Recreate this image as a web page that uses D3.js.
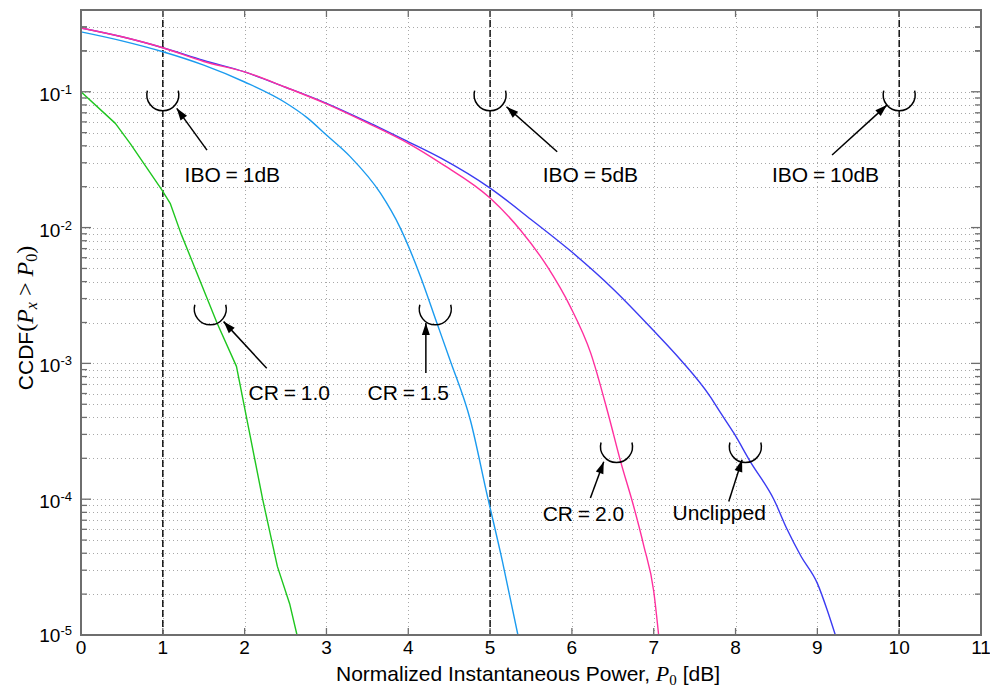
<!DOCTYPE html>
<html><head><meta charset="utf-8">
<script src="https://cdn.jsdelivr.net/npm/d3@7"></script>
<style>
body{margin:0;background:#fff;}
svg{display:block;}
text{font-family:"Liberation Sans",Arial,Helvetica,sans-serif;fill:#000;}
.serif{font-family:"Liberation Serif","Times New Roman",serif;}
</style>
</head><body>
<svg id="chart" width="990" height="689"></svg>
<script>
// ---------- data ----------
const xTickValues = [0,1,2,3,4,5,6,7,8,9,10,11];
const yTickExponents = [-5,-4,-3,-2,-1];
const iboLines = [1,5,10];

const unclippedX = [0,0.5,1,1.5,2,2.5,3,3.5,4,4.4,5,5.5,6,6.5,7,7.33,7.69,7.82,7.98,8.18,8.47,8.63,8.8,9.0,9.12,9.22];
const unclippedY = [0.295,0.254,0.211,0.170,0.140,0.108,0.0822,0.060,0.0428,0.0324,0.0195,0.01148,0.0066,0.00355,0.00174,0.00106,0.00057,0.00043,0.000306,0.000189,0.000099,0.00006,0.000038,0.000024,0.0000153,0.00001];

const cr20X = [0,0.5,1,1.5,2,2.5,3,3.5,4,4.4,5,5.37,5.7,5.98,6.23,6.45,6.595,6.756,6.88,7.0,7.06];
const cr20Y = [0.295,0.254,0.211,0.167,0.140,0.108,0.0815,0.059,0.0417,0.0297,0.0165,0.0096,0.00515,0.00262,0.00119,0.00041,0.00019,0.000088,0.000045,0.000021,0.00001];

const cr15X = [0,0.5,1,1.5,2,2.5,2.77,3,3.29,3.66,3.9,4.15,4.35,4.51,4.76,4.96,5.15,5.34];
const cr15Y = [0.276,0.237,0.197,0.157,0.118,0.083,0.064,0.048,0.0333,0.0179,0.0100,0.00435,0.00198,0.00106,0.00038,0.00011,0.000035,0.00001];

const cr10X = [0,0.42,0.6,0.99,1.09,1.22,1.66,1.9,2.22,2.4,2.55,2.64];
const cr10Y = [0.1,0.0585,0.0417,0.0189,0.0151,0.0091,0.0020,0.00095,0.0001,0.000032,0.000017,0.00001];

const seriesNames = ["Unclipped","CR = 2.0","CR = 1.5","CR = 1.0"];
const seriesColors = ["#3b3bf2","#ff2f9e","#1b9bef","#1fc61f"];

// annotation anchors in data units: marker circle, arrow tail, arrow tip, label
const annLabels = ["IBO = 1dB","IBO = 5dB","IBO = 10dB","CR = 1.0","CR = 1.5","CR = 2.0","Unclipped"];
const annCircle = [[1,0.095],[5,0.095],[10,0.095],[1.58,0.00252],[4.33,0.00252],[6.545,0.000244],[8.12,0.000244]];
const annTail = [[1.54,0.0372],[5.82,0.0362],[9.18,0.0342],[2.27,0.00092],[4.215,0.00085],[6.226,0.000102],[7.917,0.000096]];
const annTip = [[1.17,0.0755],[5.2,0.0776],[9.85,0.0798],[1.743,0.00203],[4.215,0.00198],[6.389,0.000189],[8.08,0.000195]];
const annText = [[1.85,0.0218],[6.226,0.0218],[9.1,0.0218],[2.546,0.000538],[4.0,0.000538],[6.14,0.0000686],[7.80,0.0000700]];

// ---------- layout ----------
const L = 81, R = 981, T = 10, B = 635;
const svg = d3.select("#chart");
const x = d3.scaleLinear().domain([0,11]).range([L,R]);
const y = d3.scaleLog().domain([1e-5,0.4]).range([B,T]);

const defs = svg.append("defs");
defs.append("clipPath").attr("id","clip").append("rect")
  .attr("x",L).attr("y",T).attr("width",R-L).attr("height",B-T);
defs.append("marker").attr("id","ah").attr("markerUnits","userSpaceOnUse")
  .attr("markerWidth",14).attr("markerHeight",10).attr("viewBox","-13 -5 14 10")
  .attr("refX",0).attr("refY",0).attr("orient","auto")
  .append("path").attr("d","M0,0 L-12,-4 L-12,4 Z").attr("fill","#000");

// minor/major log values
const logVals = [];
yTickExponents.forEach(e => { for (let m=1;m<=9;m++) logVals.push(m*Math.pow(10,e)); });
logVals.push(0.2,0.3);
const majorVals = yTickExponents.map(e=>Math.pow(10,e));

// grid
const grid = svg.append("g").attr("stroke","#a8a8a8").attr("stroke-width",1).attr("stroke-dasharray","1,3");
grid.selectAll("line.h").data(logVals.filter(v=>v>1e-5)).join("line")
  .attr("x1",L).attr("x2",R).attr("y1",d=>Math.round(y(d))+0.5).attr("y2",d=>Math.round(y(d))+0.5);
grid.selectAll("line.v").data(xTickValues.filter(v=>v>0&&v<11)).join("line")
  .attr("y1",T).attr("y2",B).attr("x1",d=>Math.round(x(d))+0.5).attr("x2",d=>Math.round(x(d))+0.5);

// IBO dashed lines
svg.append("g").selectAll("line").data(iboLines).join("line")
  .attr("x1",d=>x(d)).attr("x2",d=>x(d)).attr("y1",T).attr("y2",B)
  .attr("stroke","#000").attr("stroke-width",1.4).attr("stroke-dasharray","7,3");

// curves
const seriesXs = [unclippedX,cr20X,cr15X,cr10X];
const seriesYs = [unclippedY,cr20Y,cr15Y,cr10Y];
const curveTypes = [d3.curveMonotoneX,d3.curveMonotoneX,d3.curveMonotoneX,d3.curveLinear];
const curves = svg.append("g").attr("clip-path","url(#clip)");
seriesNames.forEach((name,i)=>{
  const line = d3.line().x(d=>x(d[0])).y(d=>y(d[1])).curve(curveTypes[i]);
  const pts = seriesXs[i].map((v,j)=>[v,seriesYs[i][j]]);
  curves.append("path").datum(pts).attr("d",line)
    .attr("fill","none").attr("stroke",seriesColors[i]).attr("stroke-width",1.4)
    .attr("stroke-linejoin","round");
});

// annotations
const ann = svg.append("g");
const rC = 16;
annLabels.forEach((lab,i)=>{
  const cx = x(annCircle[i][0]), cy = y(annCircle[i][1]);
  const a0 = -15*Math.PI/180, a1 = 195*Math.PI/180;
  const p = d3.path();
  p.moveTo(cx + rC*Math.cos(a0), cy + rC*Math.sin(a0));
  p.arc(cx, cy, rC, a0, a1, false);
  ann.append("path").attr("d",p.toString()).attr("fill","none").attr("stroke","#000").attr("stroke-width",1.5);
  ann.append("line")
    .attr("x1",x(annTail[i][0])).attr("y1",y(annTail[i][1]))
    .attr("x2",x(annTip[i][0])).attr("y2",y(annTip[i][1]))
    .attr("stroke","#000").attr("stroke-width",1.5).attr("marker-end","url(#ah)");
  ann.append("text").attr("x",x(annText[i][0])).attr("y",y(annText[i][1]))
    .attr("text-anchor","middle").attr("font-size",21).attr("word-spacing",-1).text(lab);
});

// frame
svg.append("rect").attr("x",L).attr("y",T).attr("width",R-L).attr("height",B-T)
  .attr("fill","none").attr("stroke","#6e6e6e").attr("stroke-width",2);

// ticks
const tk = svg.append("g").attr("stroke","#6e6e6e").attr("stroke-width",1.3);
const isMajor = v => majorVals.some(m=>Math.abs(m-v)/m<1e-6);
tk.selectAll("line.l").data(logVals).join("line")
  .attr("x1",L).attr("x2",d=>L+(isMajor(d)?10:6))
  .attr("y1",d=>y(d)).attr("y2",d=>y(d));
tk.selectAll("line.r").data(logVals).join("line")
  .attr("x1",R).attr("x2",d=>R-(isMajor(d)?10:6))
  .attr("y1",d=>y(d)).attr("y2",d=>y(d));
tk.selectAll("line.b").data(xTickValues).join("line")
  .attr("x1",d=>x(d)).attr("x2",d=>x(d)).attr("y1",B).attr("y2",B-7);
tk.selectAll("line.t").data(xTickValues).join("line")
  .attr("x1",d=>x(d)).attr("x2",d=>x(d)).attr("y1",T).attr("y2",T+7);

// x tick labels
svg.append("g").selectAll("text").data(xTickValues).join("text")
  .attr("x",d=>x(d)).attr("y",B+19).attr("text-anchor","middle")
  .attr("font-size",19).text(d=>d);

// y tick labels
const yl = svg.append("g");
yTickExponents.forEach(e=>{
  const t = yl.append("text").attr("x",L-9).attr("y",y(Math.pow(10,e))+(e===-5?7:9))
    .attr("text-anchor","end").attr("font-size",19);
  t.append("tspan").text("10");
  t.append("tspan").attr("font-size",13).attr("dy",-7).text(String(e));
});

// axis titles
const xt = svg.append("text").attr("x",528).attr("y",681).attr("text-anchor","middle").attr("font-size",21);
xt.append("tspan").text("Normalized Instantaneous Power, ");
xt.append("tspan").attr("class","serif").attr("font-style","italic").attr("font-size",22).text("P");
xt.append("tspan").attr("class","serif").attr("font-size",15).attr("dy",4).text("0");
xt.append("tspan").attr("dy",-4).text(" [dB]");

const yt = svg.append("text").attr("transform","translate(33,318) rotate(-90)")
  .attr("text-anchor","middle").attr("font-size",21);
yt.append("tspan").text("CCDF");
yt.append("tspan").attr("class","serif").attr("font-size",24).text("(");
yt.append("tspan").attr("class","serif").attr("font-style","italic").attr("font-size",24).text("P");
yt.append("tspan").attr("class","serif").attr("font-style","italic").attr("font-size",16).attr("dy",4).text("x");
yt.append("tspan").attr("class","serif").attr("font-size",24).attr("dy",-4).text(" > ");
yt.append("tspan").attr("class","serif").attr("font-style","italic").attr("font-size",24).text("P");
yt.append("tspan").attr("class","serif").attr("font-size",16).attr("dy",4).text("0");
yt.append("tspan").attr("class","serif").attr("font-size",24).attr("dy",-4).text(")");
</script>
</body></html>
